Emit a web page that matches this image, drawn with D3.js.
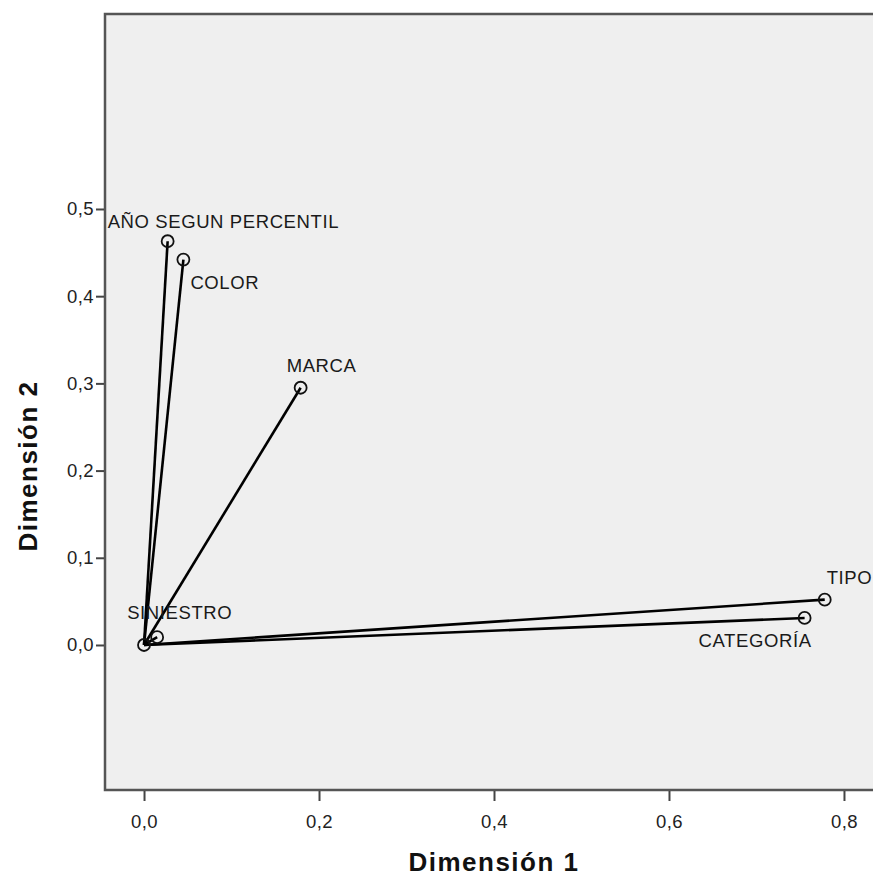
<!DOCTYPE html>
<html>
<head>
<meta charset="utf-8">
<script src="https://cdn.jsdelivr.net/npm/d3@7"></script>
<style>
  body { margin: 0; background: #fff; }
  svg { display: block; font-family: Arial, "Liberation Sans", sans-serif; }
</style>
</head>
<body>
<div id="chart"></div>
<script>
// variables (discrimination measures)
const variables = ['AÑO SEGUN PERCENTIL', 'COLOR', 'MARCA', 'TIPO', 'CATEGORÍA', 'SINIESTRO']
const dim1 = [0.027, 0.045, 0.179, 0.778, 0.755, 0.015]
const dim2 = [0.463, 0.442, 0.295, 0.052, 0.031, 0.009]
const xTicks = [0, 0.2, 0.4, 0.6, 0.8]
const yTicks = [0, 0.1, 0.2, 0.3, 0.4, 0.5]

// where each label sits relative to its point
const labelPlace = {
    'AÑO SEGUN PERCENTIL': { dx: -60, dy: -13, anchor: 'start' },
    'COLOR': { dx: 7, dy: 29, anchor: 'start' },
    'MARCA': { dx: -14, dy: -16, anchor: 'start' },
    'TIPO': { dx: 2, dy: -16, anchor: 'start' },
    'CATEGORÍA': { dx: 7, dy: 29, anchor: 'end' },
    'SINIESTRO': { dx: -30, dy: -18, anchor: 'start' }
}

const width = 873, height = 879
const plot = { left: 105, top: 14, right: 876, bottom: 790 }

const points = variables.map((v, i) => ({ name: v, x: dim1[i], y: dim2[i] }))

const x = d3.scaleLinear().domain([-0.0446, 0.8366]).range([plot.left, plot.right])
const y = d3.scaleLinear().domain([-0.1663, 0.7236]).range([plot.bottom, plot.top])

const fmt = d3.formatLocale({ decimal: ',', thousands: '.', grouping: [3], currency: ['', ''] }).format('.1f')

const svg = d3.select('#chart')
    .append('svg')
    .attr('width', width)
    .attr('height', height)

svg.append('rect')
    .attr('x', plot.left)
    .attr('y', plot.top)
    .attr('width', plot.right - plot.left)
    .attr('height', plot.bottom - plot.top)
    .attr('fill', '#efefef')

// frame: left, top, bottom (right edge runs off the picture)
svg.append('path')
    .attr('d', `M${plot.right},${plot.top}H${plot.left}V${plot.bottom}H${plot.right}`)
    .attr('fill', 'none')
    .attr('stroke', '#555')
    .attr('stroke-width', 2.5)

const xAxis = svg.append('g')
    .attr('transform', `translate(0,${plot.bottom + 1})`)
    .call(d3.axisBottom(x).tickValues(xTicks).tickFormat(fmt).tickSize(10).tickPadding(14))
xAxis.select('.domain').remove()

const yAxis = svg.append('g')
    .attr('transform', `translate(${plot.left - 1},0)`)
    .call(d3.axisLeft(y).tickValues(yTicks).tickFormat(fmt).tickSize(8).tickPadding(2))
yAxis.select('.domain').remove()

svg.selectAll('.tick line').attr('stroke', '#444').attr('stroke-width', 2)
svg.selectAll('.tick text')
    .attr('fill', '#222')
    .style('font-size', '18.5px')
    .style('letter-spacing', '0.4px')

svg.append('text')
    .attr('x', 494)
    .attr('y', 871)
    .attr('text-anchor', 'middle')
    .style('font-size', '26px')
    .style('font-weight', 'bold')
    .style('letter-spacing', '1.5px')
    .attr('fill', '#111')
    .text('Dimensión 1')

svg.append('text')
    .attr('transform', 'translate(37,466) rotate(-90)')
    .attr('text-anchor', 'middle')
    .style('font-size', '26px')
    .style('font-weight', 'bold')
    .style('letter-spacing', '1.5px')
    .attr('fill', '#111')
    .text('Dimensión 2')

// vectors from origin
svg.append('g')
    .selectAll('line')
    .data(points)
    .enter()
    .append('line')
    .attr('x1', x(0))
    .attr('y1', y(0))
    .attr('x2', d => x(d.x))
    .attr('y2', d => y(d.y))
    .attr('stroke', '#000')
    .attr('stroke-width', 2.6)

svg.append('g')
    .selectAll('circle')
    .data([{ x: 0, y: 0 }].concat(points))
    .enter()
    .append('circle')
    .attr('cx', d => x(d.x))
    .attr('cy', d => y(d.y))
    .attr('r', 6)
    .attr('fill', 'none')
    .attr('stroke', '#111')
    .attr('stroke-width', 1.8)

svg.append('g')
    .selectAll('text')
    .data(points)
    .enter()
    .append('text')
    .attr('x', d => x(d.x) + labelPlace[d.name].dx)
    .attr('y', d => y(d.y) + labelPlace[d.name].dy)
    .attr('text-anchor', d => labelPlace[d.name].anchor)
    .style('font-size', '18.5px')
    .style('letter-spacing', '0.6px')
    .attr('fill', '#1a1a1a')
    .text(d => d.name)
</script>
</body>
</html>
